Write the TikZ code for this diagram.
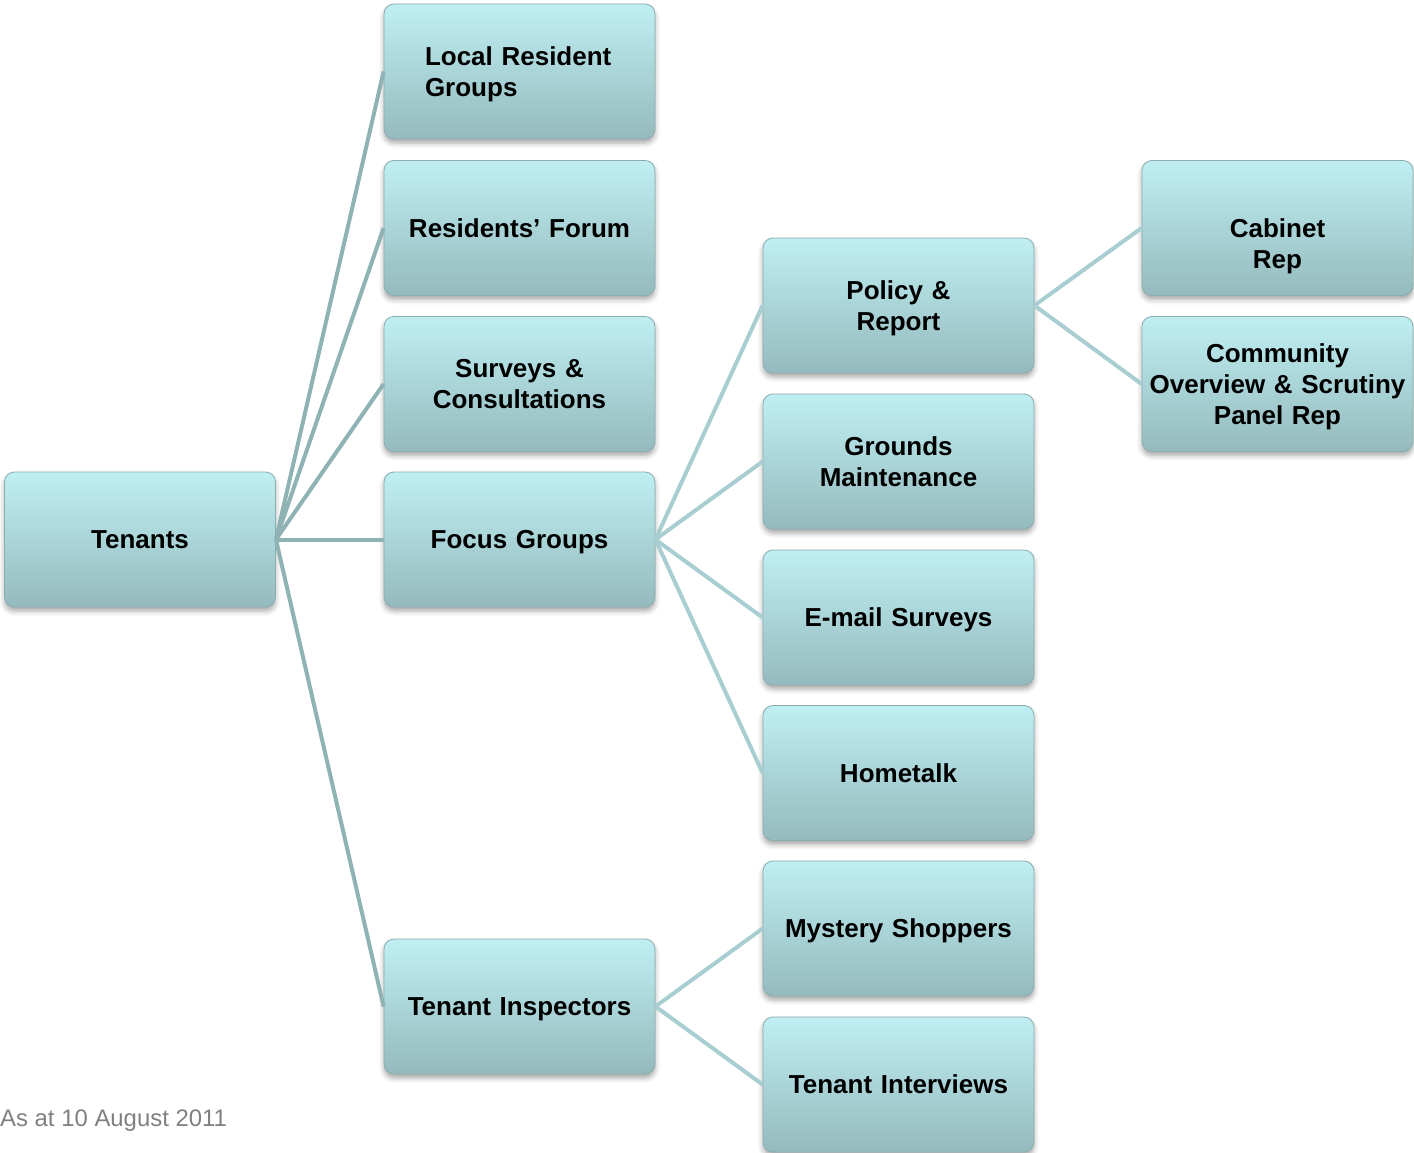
\documentclass[tikz,border=0pt]{standalone}
\usepackage{fontspec}
\setmainfont{Liberation Sans}
\usetikzlibrary{shadows,shadows.blur}
\definecolor{boxtop}{HTML}{BFEFF3}
\definecolor{boxbot}{HTML}{95BABD}
\definecolor{boxedge}{HTML}{8AADB0}
\definecolor{lineA}{HTML}{8FB2B4}
\definecolor{lineB}{HTML}{A8CED2}
\definecolor{foot}{HTML}{808080}
\newcommand\bstrut{\rule[-6.2pt]{0pt}{31pt}}
\begin{document}
\begin{tikzpicture}[x=1pt,y=-1pt,
  boxtext/.style={inner xsep=3pt, inner ysep=0pt, text width=265pt, align=center,
    font=\fontsize{26}{31}\selectfont\bfseries,
    execute at begin node=\bstrut, execute at end node=\bstrut},
  box/.style={boxtext, rectangle, rounded corners=10pt, minimum width=271pt, minimum height=135pt,
    top color=boxtop, bottom color=boxbot,
    draw=boxedge, line width=0.8pt,
    blur shadow={shadow xshift=0pt, shadow yshift=-4pt, shadow blur radius=5pt, shadow opacity=35}},
  leftbox/.style={box, inner xsep=41pt, text width=189pt, align=left},
  linkA/.style={draw=lineA, line width=4pt},
  linkB/.style={draw=lineB, line width=4pt}]
\useasboundingbox (0,0) rectangle (1414,1153);

\node[box] (ten) at (140,539.5) {Tenants};

\node[leftbox] (lrg) at (519.5,71.5) {Local Resident\\Groups};
\node[box] (rf) at (519.5,228) {Residents’ Forum};
\node[box] (sc) at (519.5,384) {Surveys \&\\Consultations};
\node[box] (fg) at (519.5,539.5) {Focus Groups};
\node[box] (ti) at (519.5,1006.5) {Tenant Inspectors};

\node[box] (pr) at (898.5,305.5) {Policy \&\\Report};
\node[box] (gm) at (898.5,461.5) {Grounds\\Maintenance};
\node[box] (es) at (898.5,617.5) {E-mail Surveys};
\node[box] (ht) at (898.5,773) {Hometalk};
\node[box] (ms) at (898.5,928.5) {Mystery Shoppers};
\node[box] (tint) at (898.5,1084.5) {Tenant Interviews};

\node[box] (cr) at (1277.5,228) {};
\node[boxtext] (crt) at ([yshift=-16pt]cr.center) {Cabinet\\Rep};
\node[box] (co) at (1277.5,384) {Community\\Overview \& Scrutiny\\Panel Rep};

\foreach \c in {lrg,rf,sc,fg,ti}
  \draw[linkA] (ten.east) -- (\c.west);
\foreach \c in {pr,gm,es,ht}
  \draw[linkB] (fg.east) -- (\c.west);
\foreach \c in {ms,tint}
  \draw[linkB] (ti.east) -- (\c.west);
\foreach \c in {cr,co}
  \draw[linkB] (pr.east) -- (\c.west);

\node[anchor=base west, inner sep=0pt, text=foot, font=\fontsize{23.9}{28}\selectfont] (note) at (0,1126) {As at 10 August 2011};
\end{tikzpicture}
\end{document}
